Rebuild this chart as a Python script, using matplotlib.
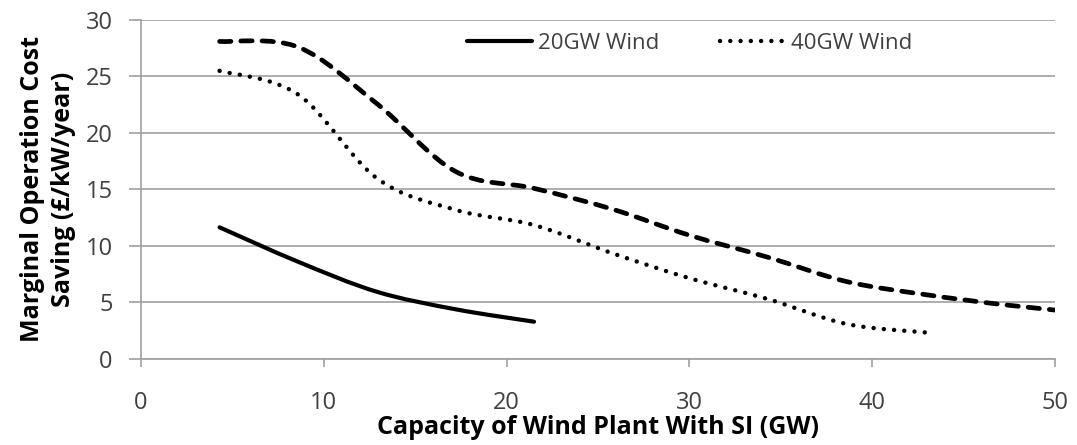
import matplotlib
matplotlib.use("Agg")
import matplotlib.pyplot as plt
from matplotlib.path import Path
from matplotlib.patches import PathPatch
from matplotlib.lines import Line2D
import numpy as np

plt.rcParams['font.family'] = ['Open Sans', 'DejaVu Sans']

# capacity points (GW)
x_pts = [4.3, 8.6, 12.9, 17.2, 21.5, 25.8, 30.0, 34.3, 38.6, 42.9, 47.2, 51.5]
y20 = [11.65, 8.6, 5.95, 4.4, 3.3]
y40 = [25.5, 23.4, 16.0, 13.2, 11.85, 9.35, 7.15, 5.3, 3.1, 2.35]
y60 = [28.1, 27.6, 22.6, 16.6, 15.1, 13.25, 10.95, 9.0, 6.85, 5.7, 4.8, 4.1]

x_ticks = [0, 10, 20, 30, 40, 50]
y_ticks = [0, 5, 10, 15, 20, 25, 30]


def smooth_path(xs, ys):
    # Excel style smoothed line: cubic bezier through the points
    p = np.column_stack([xs, ys])
    verts = [p[0]]
    codes = [Path.MOVETO]
    n = len(p)
    for i in range(n - 1):
        p0 = p[i - 1] if i > 0 else p[i]
        p3 = p[i + 2] if i + 2 < n else p[i + 1]
        c1 = p[i] + (p[i + 1] - p0) / 6
        c2 = p[i + 1] - (p3 - p[i]) / 6
        verts += [c1, c2, p[i + 1]]
        codes += [Path.CURVE4] * 3
    return Path(verts, codes)


fig = plt.figure(figsize=(10.77, 4.45), dpi=100)
ax = fig.add_axes([0.1309, 0.1933, 0.8487, 0.7618])

grey = '#A0A0A0'
ax.set_xlim(0, 50)
ax.set_ylim(0, 30)
ax.set_xticks(x_ticks)
ax.set_yticks(y_ticks)
ax.grid(axis='y', color=grey, lw=1.2)
ax.set_axisbelow(True)
for s in ['top', 'right']:
    ax.spines[s].set_visible(False)
for s in ['left', 'bottom']:
    ax.spines[s].set_color(grey)
    ax.spines[s].set_linewidth(1.2)
ax.tick_params(axis='y', length=8.5, width=1.2, color=grey, pad=12,
               labelsize=17, labelcolor='#404040')
ax.tick_params(axis='x', length=5.8, width=1.2, color=grey, pad=17,
               labelsize=17, labelcolor='#404040')

lw = 3.0
ax.add_patch(PathPatch(smooth_path(x_pts[:5], y20), fill=False, lw=lw,
                       ec='black', capstyle='round', joinstyle='round'))
ax.add_patch(PathPatch(smooth_path(x_pts[:10], y40), fill=False, lw=3.2,
                       ec='black', capstyle='round', linestyle=(0, (0.01, 2.3))))
ax.add_patch(PathPatch(smooth_path(x_pts, y60), fill=False, lw=3.4,
                       ec='black', capstyle='round', linestyle=(0, (2.4, 2.1))))

handles = [
    Line2D([], [], color='black', lw=lw, solid_capstyle='round'),
    Line2D([], [], color='black', lw=3.2, dash_capstyle='round',
           linestyle=(0, (0.01, 2.3))),
]
ax.legend(handles, ['20GW Wind', '40GW Wind'], loc='center left',
          bbox_to_anchor=(0.357, 0.932), ncol=2, frameon=False,
          fontsize=16, handlelength=2.9, handletextpad=0.3,
          columnspacing=2.7, borderpad=0, borderaxespad=0,
          labelcolor='#404040')

ax.set_xlabel('Capacity of Wind Plant With SI (GW)', fontsize=18,
              fontweight='bold', labelpad=0)
ax.set_ylabel('Marginal Operation Cost\nSaving (£/kW/year)', fontsize=18,
              fontweight='bold', linespacing=1.3, labelpad=7)

fig.savefig('out.png', dpi=100)
